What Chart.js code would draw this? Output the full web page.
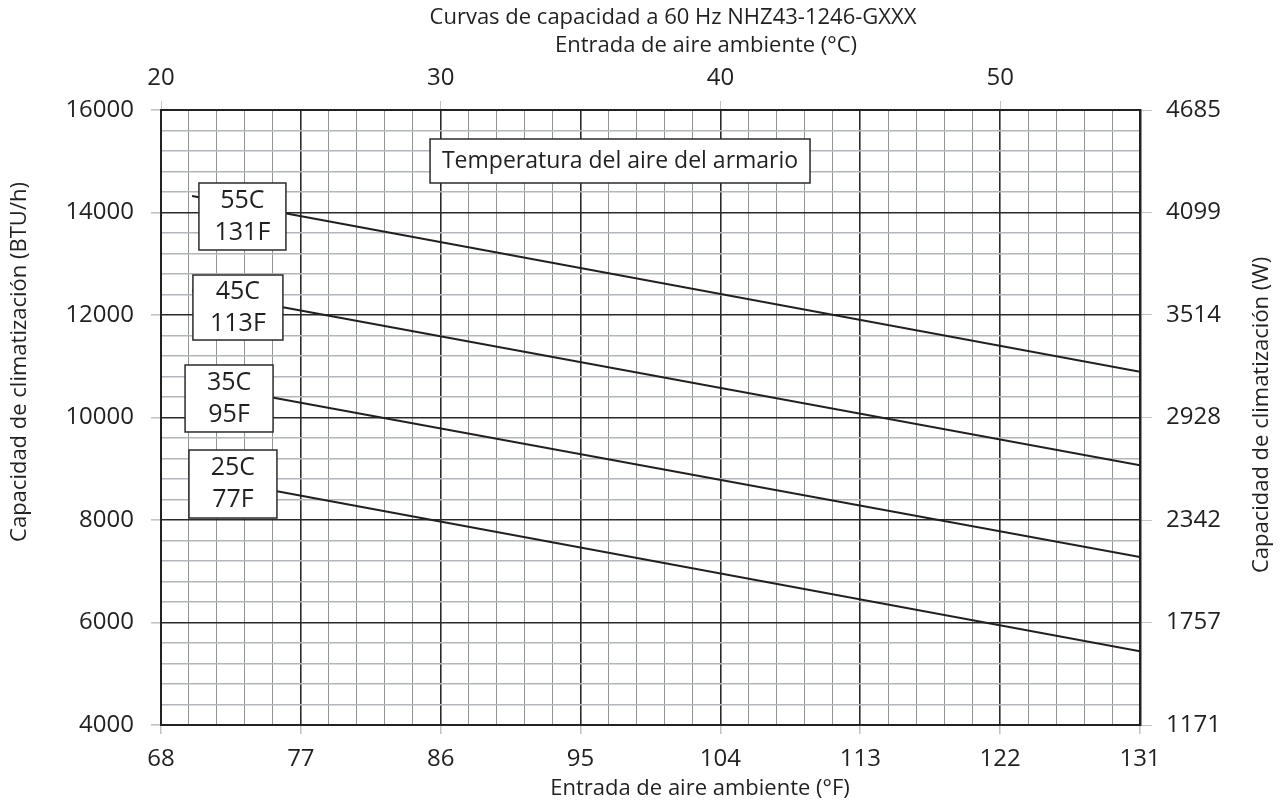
<!DOCTYPE html>
<html>
<head>
<meta charset="utf-8">
<script src="https://cdn.jsdelivr.net/npm/chart.js@4.4.1/dist/chart.umd.min.js"></script>
<style>
  html, body { margin: 0; padding: 0; background: #fff; }
  #contenedor { width: 1282px; height: 801px; }
</style>
</head>
<body>
<div id="contenedor"><canvas id="graficoCapacidad"></canvas></div>
<script>
// Datos (entrada de aire en °F, capacidad en BTU/h)
const temperaturasF = [70, 131];
const curva55C = [14320, 10890];
const curva45C = [12480, 9070];
const curva35C = [10680, 7280];
const curva25C = [8870, 5440];
const nombresCurvas = [["55C", "131F"], ["45C", "113F"], ["35C", "95F"], ["25C", "77F"]];

const ticksF = [68, 77, 86, 95, 104, 113, 122, 131];
const ticksC = [20, 30, 40, 50];
const ticksBTU = [4000, 6000, 8000, 10000, 12000, 14000, 16000];
const ticksW = [1171, 1757, 2342, 2928, 3514, 4099, 4685];

const FUENTE = "'Open Sans', 'Noto Sans', sans-serif";
const NEGRO = "#221f20";

// cajas de etiquetas: centro en unidades de datos, tamaño en px
const posCajas = [
  { x: 73.24, y: 13922, w: 87, h: 67 },
  { x: 72.95, y: 12146, w: 90, h: 65 },
  { x: 72.38, y: 10371, w: 88, h: 67 },
  { x: 72.63, y: 8702, w: 88, h: 68 },
];

function puntos(valores) {
  return temperaturasF.map((t, i) => ({ x: t, y: valores[i] }));
}

function esMayor(lista, v) {
  return lista.some(m => Math.abs(m - v) < 0.01);
}

const cajasYTitulos = {
  id: "cajasYTitulos",
  afterDatasetsDraw(chart) {
    const ctx = chart.ctx;
    const sx = chart.scales.x, sy = chart.scales.y;
    ctx.save();
    ctx.textAlign = "center";
    ctx.textBaseline = "middle";
    ctx.strokeStyle = "#2a2a2a";
    ctx.lineWidth = 1.5;

    posCajas.forEach((c, i) => {
      const cx = sx.getPixelForValue(c.x), cy = sy.getPixelForValue(c.y);
      ctx.fillStyle = "#fff";
      ctx.fillRect(cx - c.w / 2, cy - c.h / 2, c.w, c.h);
      ctx.strokeRect(cx - c.w / 2, cy - c.h / 2, c.w, c.h);
      ctx.fillStyle = NEGRO;
      ctx.font = "25px " + FUENTE;
      ctx.fillText(nombresCurvas[i][0], cx, cy - 16);
      ctx.fillText(nombresCurvas[i][1], cx, cy + 16);
    });

    // caja "Temperatura del aire del armario"
    const tx = sx.getPixelForValue(97.54), ty = sy.getPixelForValue(15005);
    ctx.fillStyle = "#fff";
    ctx.fillRect(tx - 190, ty - 22, 380, 44);
    ctx.strokeRect(tx - 190, ty - 22, 380, 44);
    ctx.fillStyle = NEGRO;
    ctx.font = "23px " + FUENTE;
    ctx.fillText("Temperatura del aire del armario", tx, ty);

    // titulos
    ctx.font = "22px " + FUENTE;
    ctx.fillText("Curvas de capacidad a 60 Hz NHZ43-1246-GXXX", 673, 18);
    ctx.fillText("Entrada de aire ambiente (°C)", 706, 46);
    ctx.fillText("Entrada de aire ambiente (°F)", 700, 789);

    ctx.save();
    ctx.translate(20, 362);
    ctx.rotate(-Math.PI / 2);
    ctx.fillText("Capacidad de climatización (BTU/h)", 0, 0);
    ctx.restore();

    ctx.save();
    ctx.translate(1262, 415);
    ctx.rotate(-Math.PI / 2);
    ctx.fillText("Capacidad de climatización (W)", 0, 0);
    ctx.restore();

    ctx.restore();
  }
};

const estiloLinea = { borderColor: NEGRO, borderWidth: 2, pointRadius: 0, fill: false, tension: 0 };

new Chart(document.getElementById("graficoCapacidad"), {
  type: "line",
  data: {
    datasets: [
      { label: "55C", data: puntos(curva55C), ...estiloLinea },
      { label: "45C", data: puntos(curva45C), ...estiloLinea },
      { label: "35C", data: puntos(curva35C), ...estiloLinea },
      { label: "25C", data: puntos(curva25C), ...estiloLinea },
    ],
  },
  options: {
    responsive: true,
    maintainAspectRatio: false,
    animation: false,
    layout: { padding: 0 },
    plugins: { legend: { display: false }, tooltip: { enabled: false } },
    scales: {
      x: {
        type: "linear",
        position: "bottom",
        min: 68,
        max: 131,
        afterBuildTicks(scale) {
          const t = [];
          for (let i = 0; i <= 35; i++) t.push({ value: 68 + i * 1.8 });
          scale.ticks = t;
        },
        afterFit(scale) { scale.height = 76; },
        ticks: {
          autoSkip: false,
          maxRotation: 0,
          padding: 11,
          color: NEGRO,
          font: { size: 24, family: FUENTE },
          callback: v => esMayor(ticksF, v) ? String(Math.round(v)) : "",
        },
        grid: {
          color: c => esMayor(ticksF, c.tick.value) ? "#2a2a2a" : "#8f949b",
          lineWidth: c => esMayor(ticksF, c.tick.value) ? 1.6 : 1,
          tickColor: c => esMayor(ticksF, c.tick.value) ? "#c4c4c4" : "rgba(0,0,0,0)",
          tickLength: 9,
        },
        border: { color: "#222", width: 2 },
      },
      x2: {
        type: "linear",
        axis: "x",
        position: "top",
        min: 20,
        max: 55,
        afterBuildTicks(scale) { scale.ticks = ticksC.map(v => ({ value: v })); },
        afterFit(scale) { scale.height = 110; },
        ticks: {
          autoSkip: false,
          maxRotation: 0,
          padding: 8,
          color: NEGRO,
          font: { size: 24, family: FUENTE },
        },
        grid: { drawOnChartArea: false, tickColor: "#c4c4c4", tickLength: 9 },
        border: { color: "#222", width: 2 },
      },
      y: {
        type: "linear",
        position: "left",
        min: 4000,
        max: 16000,
        afterBuildTicks(scale) {
          const t = [];
          for (let v = 4000; v <= 16000; v += 400) t.push({ value: v });
          scale.ticks = t;
        },
        afterFit(scale) { scale.width = 161; },
        ticks: {
          autoSkip: false,
          padding: 17,
          color: NEGRO,
          font: { size: 24, family: FUENTE },
          callback: v => esMayor(ticksBTU, v) ? String(v) : "",
        },
        grid: {
          color: c => esMayor(ticksBTU, c.tick.value) ? "#2a2a2a" : "#b3b6ba",
          lineWidth: c => esMayor(ticksBTU, c.tick.value) ? 1.6 : 1.4,
          tickColor: c => esMayor(ticksBTU, c.tick.value) ? "#c4c4c4" : "rgba(0,0,0,0)",
          tickLength: 10,
        },
        border: { color: "#222", width: 2 },
      },
      y2: {
        type: "linear",
        axis: "y",
        position: "right",
        min: 1171,
        max: 4685,
        afterBuildTicks(scale) { scale.ticks = ticksW.map(v => ({ value: v })); },
        afterFit(scale) { scale.width = 142; },
        ticks: {
          autoSkip: false,
          padding: 14,
          color: NEGRO,
          font: { size: 24, family: FUENTE },
          callback: v => String(v),
        },
        grid: { drawOnChartArea: false, tickColor: "#c4c4c4", tickLength: 12 },
        border: { color: "#222", width: 2.5 },
      },
    },
  },
  plugins: [cajasYTitulos],
});
</script>
</body>
</html>
